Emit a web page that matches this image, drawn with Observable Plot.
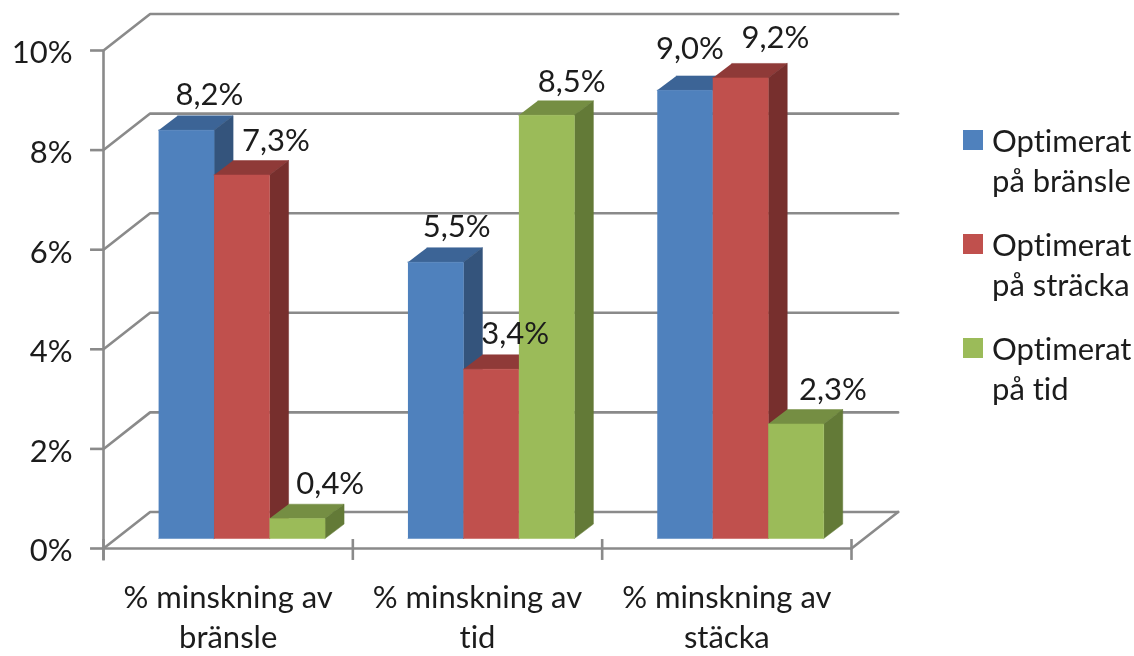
<!DOCTYPE html>
<html><head><meta charset="utf-8">
<script src="https://cdn.jsdelivr.net/npm/d3@7"></script>
<script src="https://cdn.jsdelivr.net/npm/@observablehq/plot@0.6"></script>
<style>
html,body{margin:0;padding:0;background:#fff}
#wrap{position:relative;width:1134px;height:656px;overflow:hidden;font-family:Lato,sans-serif;font-variant-ligatures:none;color:#1c1c1c;filter:blur(.6px)}
#wrap svg{display:block;font-variant-ligatures:none}
.lg{position:absolute;left:963px;width:170px}
.lg i{position:absolute;left:0;top:7px;width:20px;height:20px}
.lg span{position:absolute;left:29px;top:-3px;font-size:31px;line-height:40px;white-space:nowrap}
</style></head><body><div id="wrap"></div>
<script>
const categories = ["% minskning av\nbränsle", "% minskning av\ntid", "% minskning av\nstäcka"];
const seriesNames = ["Optimerat\npå bränsle", "Optimerat\npå sträcka", "Optimerat\npå tid"];
const bransle = [8.2, 5.55, 9.0];
const stracka = [7.3, 3.4, 9.25];
const tid = [0.4, 8.5, 2.3];
const labels = [["8,2%","5,5%","9,0%"],["7,3%","3,4%","9,2%"],["0,4%","8,5%","2,3%"]];
const yTicks = [0,2,4,6,8,10];
const fronts = ["#4F81BD","#C0504D","#9BBB59"];
const tops = ["#3C6496","#8F3A38","#758E43"];
const sides = ["#34547C","#772F2D","#637A37"];

// depth of the chart in data units
const wallX = 0.187, wallY = 0.733, base = 0.2;
const barX = 0.0763, barY = 0.29, barW = 0.2225, groupGap = 0.221;
// label offsets from the bar's front top centre, px
const labelShift = [[[23,-25],[21,-25],[5,-31]],[[34,-24],[24,-25],[35,-30]],[[33,-25],[25,-23],[37,-24]]];

const values = [bransle, stracka, tid];
const faces = [], texts = [];
values.forEach((vals,s)=>vals.forEach((v,c)=>{
  const x0 = c + groupGap + s*barW, x1 = x0 + barW, y0 = base, y1 = base + v;
  const id = `${c}-${s}`;
  const add = (face,color,pts)=>pts.forEach(([x,y])=>faces.push({id:id+face,color,x,y}));
  add("t",tops[s],[[x0,y1],[x1,y1],[x1+barX,y1+barY],[x0+barX,y1+barY]]);
  add("s",sides[s],[[x1,y0],[x1+barX,y0+barY],[x1+barX,y1+barY],[x1,y1]]);
  add("f",fronts[s],[[x0,y0],[x1,y0],[x1,y1],[x0,y1]]);
  texts.push({x:(x0+x1)/2,y:y1,t:labels[s][c],d:labelShift[s][c]});
}));
// keep left-to-right painter's order within a group
const order = []; 
[0,1,2].forEach(c=>[0,1,2].forEach(s=>["t","s","f"].forEach(f=>order.push(`${c}-${s}${f}`))));
faces.sort((a,b)=>order.indexOf(a.id)-order.indexOf(b.id));

const grid = yTicks.flatMap(t=>[
  {id:t,x:0,y:t},{id:t,x:wallX,y:t+wallY},{id:t,x:3+wallX,y:t+wallY}
]);
const floorEnd = [{x:3,y:0},{x:3+wallX,y:wallY}];
const gray = "#8a8a8a", fs = 31, sw = 2.6;

const chart = Plot.plot({
  width:1134, height:656, marginLeft:103, marginRight:283, marginTop:50, marginBottom:108,
  x:{domain:[0,3],label:null,axis:null}, y:{domain:[0,10],label:null},
  style:{fontFamily:"Lato,sans-serif",background:"#fff",overflow:"visible"},
  marks:[
    Plot.line(grid,{x:"x",y:"y",z:"id",stroke:gray,strokeWidth:sw}),
    Plot.line(floorEnd,{x:"x",y:"y",stroke:gray,strokeWidth:sw}),
    Plot.ruleX([0],{y1:-0.25,y2:10,stroke:gray,strokeWidth:sw}),
    Plot.ruleY([0],{x1:0,x2:3,stroke:gray,strokeWidth:sw}),
    Plot.ruleX([0,1,2,3],{y1:-0.24,y2:0.18,stroke:gray,strokeWidth:sw}),
    Plot.ruleY(yTicks,{x1:-0.052,x2:0,stroke:gray,strokeWidth:sw}),
    Plot.axisY({ticks:yTicks,tickFormat:d=>d+"%",tickSize:0,tickPadding:31,dy:3,fill:"#1c1c1c",fontSize:fs,label:null}),
    Plot.text(categories,{x:(d,i)=>i+0.5,y:()=>-1.34,text:d=>d,fontSize:fs,lineHeight:1.29,lineAnchor:"middle",fill:"#1c1c1c",textAnchor:"middle"}),
    Plot.line(faces,{x:"x",y:"y",z:"id",fill:"color",stroke:"color",strokeWidth:0.5}),
    ...texts.map(d=>Plot.text([d],{x:"x",y:"y",text:"t",dx:d.d[0],dy:d.d[1],lineAnchor:"bottom",fontSize:fs,fill:"#1c1c1c"}))
  ]
});
const wrap = document.getElementById("wrap");
wrap.append(chart);
const tops0 = [123,227,331];
seriesNames.forEach((n,i)=>{
  const d = document.createElement("div");
  d.className="lg"; d.style.top=tops0[i]+"px";
  d.innerHTML=`<i style="background:${fronts[i]}"></i><span>${n.replace("\n","<br>")}</span>`;
  wrap.append(d);
});
</script></body></html>
